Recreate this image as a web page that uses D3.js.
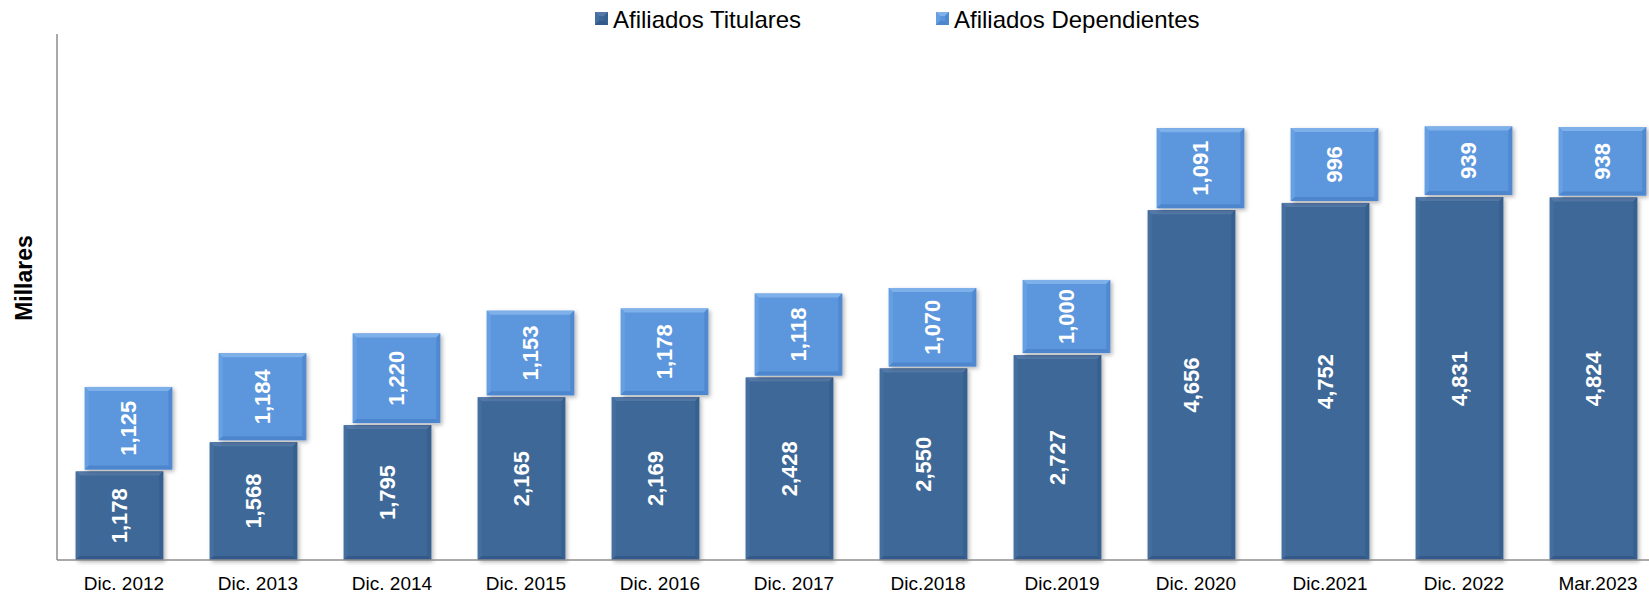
<!DOCTYPE html>
<html>
  <head>
    <meta charset="utf-8">
    <title>Afiliados</title>
    <script src="https://cdn.jsdelivr.net/npm/d3@7"></script>
    <style>
      body { margin: 0; background: #fff; }
      #chart { display: block; font-family: "Liberation Sans", Arial, sans-serif; }
      .tick text { fill: #000; }
      .barLabel { fill: #fff; font-weight: bold; font-size: 22px; }
    </style>
  </head>

  <body>
    <svg id="chart" width="1649" height="595"></svg>

    <script>
      // data (miles de afiliados)
      categories = ["Dic. 2012", "Dic. 2013", "Dic. 2014", "Dic. 2015", "Dic. 2016", "Dic. 2017", "Dic.2018", "Dic.2019", "Dic. 2020", "Dic.2021", "Dic. 2022", "Mar.2023"];
      titulares = [1178, 1568, 1795, 2165, 2169, 2428, 2550, 2727, 4656, 4752, 4831, 4824];
      dependientes = [1125, 1184, 1220, 1153, 1178, 1118, 1070, 1000, 1091, 996, 939, 938];
      seriesNames = ["Afiliados Titulares", "Afiliados Dependientes"];

      // colours: [face, top, left, right, bottom]
      darkCols = ["#3d6797", "#5479a8", "#446e9e", "#36608f", "#33598a"];
      lightCols = ["#5b96dd", "#7eb0ea", "#66a0e3", "#5189d0", "#4d86cc"];

      chart = d3.select("#chart");

      margin = { top: 34, left: 57, bottom: 35 };
      width = 1649;
      height = 595;
      offset = 9;   // light box sits a little right of the dark bar
      bevel = 4;

      x = d3.scaleBand()
        .domain(categories)
        .range([margin.left, margin.left + 12 * 134])
        .paddingInner(0.28)
        .paddingOuter(0.14);
      y = d3.scaleLinear()
        .domain([0, 7000])
        .range([height - margin.bottom, margin.top]);
      barW = x.bandwidth() - offset;
      fmt = d3.format(",");

      defs = chart.append("defs");
      defs.append("filter")
          .attr("id", "shadow")
          .attr("x", "-20%").attr("y", "-20%")
          .attr("width", "140%").attr("height", "140%")
        .append("feDropShadow")
          .attr("dx", 2).attr("dy", 2)
          .attr("stdDeviation", 2)
          .attr("flood-color", "#000")
          .attr("flood-opacity", 0.3);

      // bevelled box like the spreadsheet 3D format
      function bevelBox(g, x0, y0, w, h, cols, shadow) {
        let b = Math.min(bevel, h / 2);
        let box = g.append("g");
        box.append("rect")
          .attr("x", x0).attr("y", y0)
          .attr("width", w).attr("height", h)
          .attr("fill", cols[0])
          .attr("filter", shadow ? "url(#shadow)" : null);
        let faces = [
          [[x0, y0], [x0 + w, y0], [x0 + w - b, y0 + b], [x0 + b, y0 + b]],
          [[x0, y0], [x0 + b, y0 + b], [x0 + b, y0 + h - b], [x0, y0 + h]],
          [[x0 + w, y0], [x0 + w - b, y0 + b], [x0 + w - b, y0 + h - b], [x0 + w, y0 + h]],
          [[x0, y0 + h], [x0 + b, y0 + h - b], [x0 + w - b, y0 + h - b], [x0 + w, y0 + h]]
        ];
        box.selectAll("polygon")
            .data(faces)
          .enter().append("polygon")
            .attr("points", function(d) { return d.join(" "); })
            .attr("fill", function(d, i) { return cols[i + 1]; });
      }

      // axis line
      chart.append("line")
        .attr("x1", margin.left).attr("x2", margin.left)
        .attr("y1", y(7000)).attr("y2", y(0))
        .attr("stroke", "#8c8c8c").attr("stroke-width", 1.5);

      bars = chart.append("g");
      categories.forEach(function(c, i) {
        let g = bars.append("g");
        let xd = x(c);
        let yt = y(titulares[i]);
        bevelBox(g, xd, yt, barW, y(0) - yt, darkCols, true);
        let xl = xd + offset;
        let yl = y(titulares[i] + dependientes[i]);
        bevelBox(g, xl, yl, barW, yt - 2 - yl, lightCols, true);

        g.append("text")
          .attr("class", "barLabel")
          .attr("transform", "translate(" + (xd + barW / 2) + "," + ((yt + y(0)) / 2) + ") rotate(-90)")
          .attr("text-anchor", "middle")
          .attr("dominant-baseline", "central")
          .text(fmt(titulares[i]));
        g.append("text")
          .attr("class", "barLabel")
          .attr("transform", "translate(" + (xl + barW / 2) + "," + ((yl + yt - 2) / 2) + ") rotate(-90)")
          .attr("text-anchor", "middle")
          .attr("dominant-baseline", "central")
          .text(fmt(dependientes[i]));
      });

      chart.append("line")
        .attr("x1", margin.left).attr("x2", width)
        .attr("y1", y(0)).attr("y2", y(0))
        .attr("stroke", "#8c8c8c").attr("stroke-width", 1.5);

      xAxis = d3.axisBottom(x).tickSize(0).tickPadding(17);
      chart.append("g")
          .attr("transform", "translate(0," + y(0) + ")")
          .call(xAxis)
          .call(function(g) { g.select(".domain").remove(); })
        .selectAll("text")
          .style("font-size", "19px")
          .style("font-family", "Liberation Sans, Arial, sans-serif");

      // y axis title
      chart.append("text")
        .attr("transform", "translate(24," + 278 + ") rotate(-90)")
        .attr("text-anchor", "middle")
        .attr("dominant-baseline", "central")
        .style("font-weight", "bold")
        .style("font-size", "23px")
        .text("Millares");

      // legend
      legendX = [595, 936];
      legend = chart.append("g");
      [darkCols, lightCols].forEach(function(cols, i) {
        let lg = legend.append("g");
        bevelBox(lg, legendX[i], 12, 13, 13, cols, false);
        lg.append("text")
          .attr("x", legendX[i] + 18)
          .attr("y", 28)
          .style("font-size", "24px")
          .text(seriesNames[i]);
      });
    </script>
  </body>
</html>
